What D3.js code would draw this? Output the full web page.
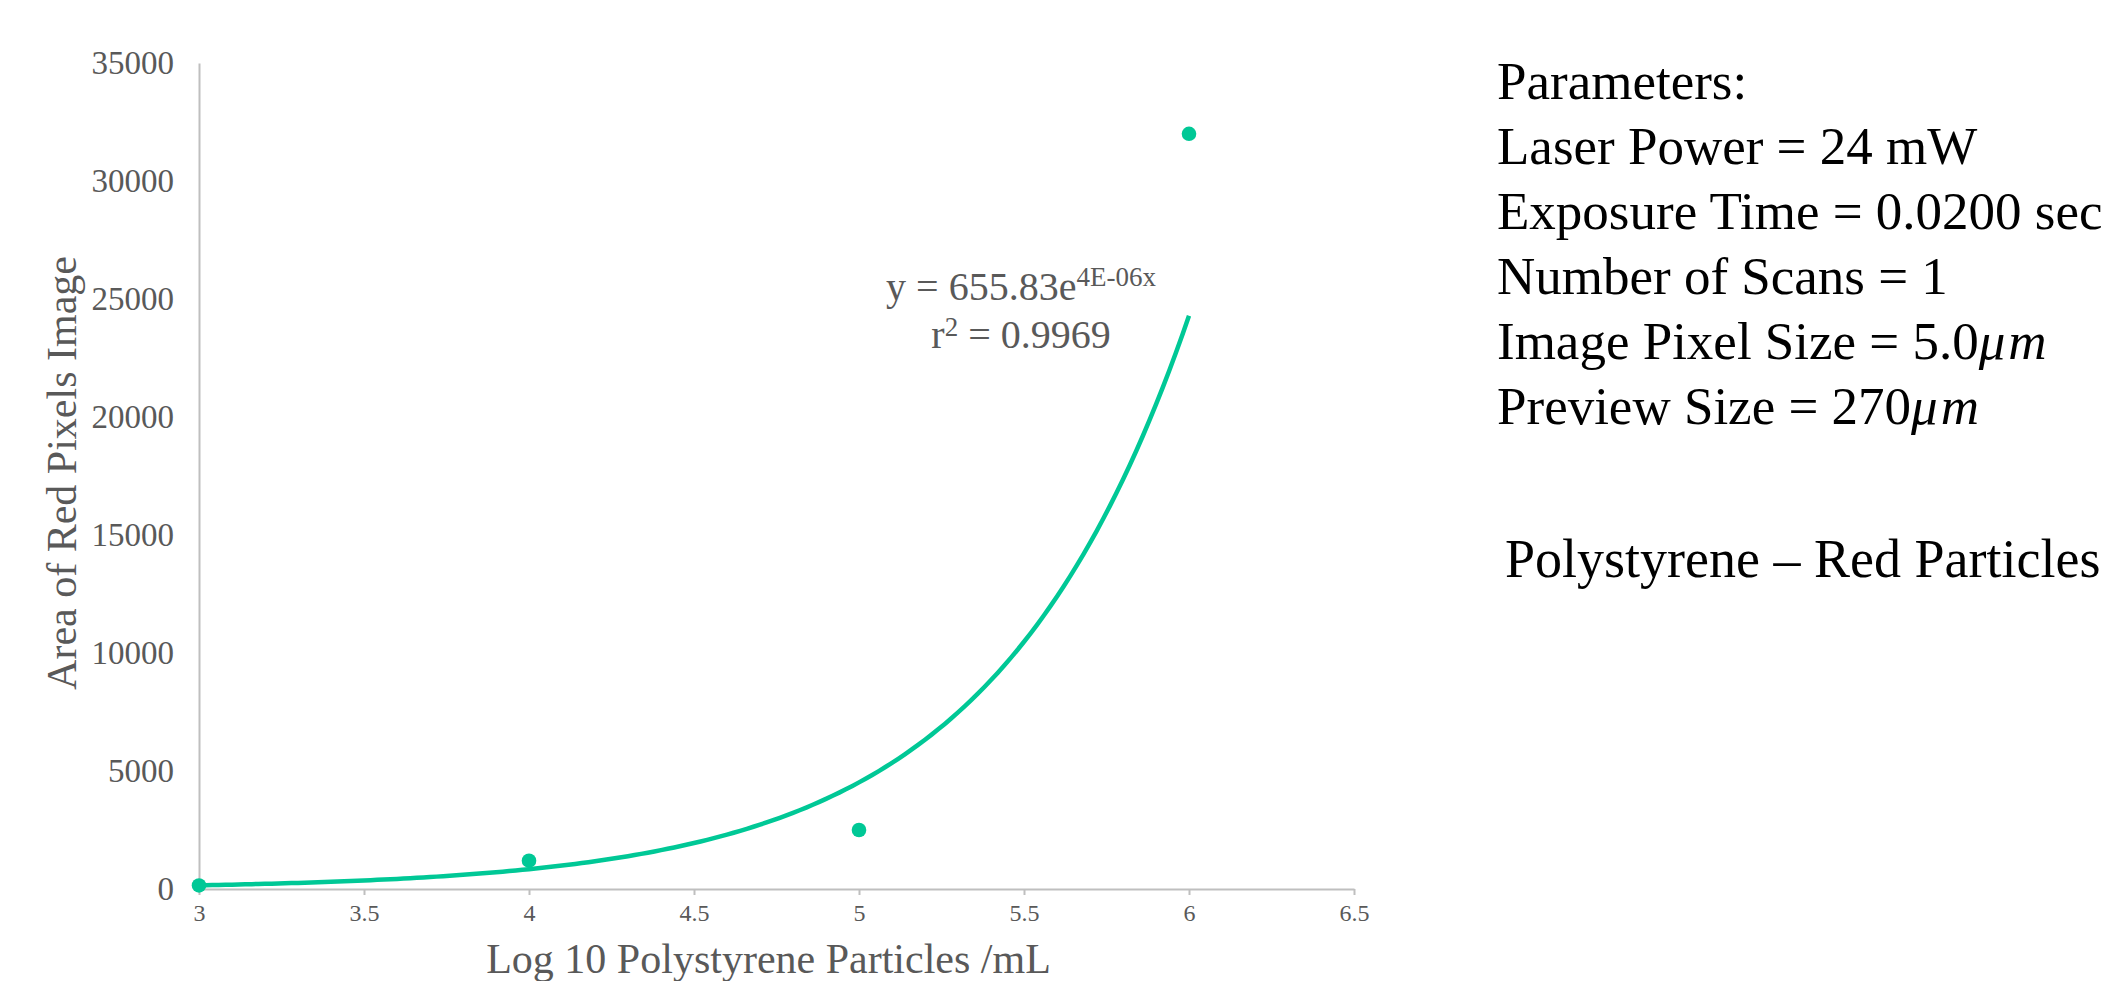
<!DOCTYPE html>
<html>
<head>
<meta charset="utf-8">
<script src="https://cdn.jsdelivr.net/npm/d3@7"></script>
<style>
  html, body { margin: 0; padding: 0; background: #fff; overflow: hidden; }
  svg { display: block; }
  text { font-family: "Liberation Serif", "Times New Roman", serif; }
</style>
</head>
<body>
<svg id="chart" width="2113" height="981"></svg>
<script>
// ---- data ----
const logConc = [3, 4, 5, 6];
const redArea = [150, 1200, 2500, 32000];
const xTicks = [3, 3.5, 4, 4.5, 5, 5.5, 6, 6.5];
const yTicks = [0, 5000, 10000, 15000, 20000, 25000, 30000, 35000];
const xTitle = "Log 10 Polystyrene Particles /mL";
const yTitle = "Area of Red Pixels Image";
const eqMain = "y = 655.83e";
const eqSup = "4E-06x";
const eqR2 = "0.9969";
const paramLines = [
  ["Parameters:"],
  ["Laser Power = 24 mW"],
  ["Exposure Time = 0.0200 sec"],
  ["Number of Scans = 1"],
  ["Image Pixel Size = 5.0", "μm"],
  ["Preview Size = 270", "μm"]
];
const subtitle = "Polystyrene – Red Particles";

(function () {
// ---- layout ----
const svg = d3.select("#chart");
const pLeft = 199, pRight = 1354, pTop = 63, pBottom = 889;
const x = d3.scaleLinear().domain([3, 6.5]).range([pLeft, pRight]);
const y = d3.scaleLinear().domain([0, 35000]).range([pBottom, pTop]);
const green = "#00C896";
const grey = "#595959";
const axisGrey = "#BFBFBF";

// ---- axes ----
const xAxis = svg.append("g").attr("transform", `translate(0,${pBottom})`)
  .call(d3.axisBottom(x).tickValues(xTicks).tickSize(6).tickSizeOuter(0).tickFormat(d3.format("")));
xAxis.select(".domain").attr("stroke", axisGrey).attr("stroke-width", 2);
xAxis.selectAll(".tick line").attr("stroke", axisGrey).attr("stroke-width", 2);
xAxis.selectAll(".tick text").attr("fill", grey).attr("font-size", 24)
  .attr("font-family", "Liberation Serif").attr("y", 15).attr("dy", "0.71em");

const yAxis = svg.append("g").attr("transform", `translate(${pLeft},0)`)
  .call(d3.axisLeft(y).tickValues(yTicks).tickSize(0).tickPadding(25).tickFormat(d3.format("d")));
yAxis.select(".domain").attr("stroke", axisGrey).attr("stroke-width", 2);
yAxis.selectAll(".tick text").attr("fill", grey).attr("font-size", 33)
  .attr("font-family", "Liberation Serif");

// axis titles
svg.append("text").attr("x", (pLeft + pRight) / 2 - 8).attr("y", 973)
  .attr("text-anchor", "middle").attr("fill", grey).attr("font-size", 42).text(xTitle);
svg.append("text").attr("transform", `translate(76,${(pTop + pBottom) / 2 - 3}) rotate(-90)`)
  .attr("text-anchor", "middle").attr("fill", grey).attr("font-size", 42).text(yTitle);

// ---- exponential trendline (least squares on ln y, as spreadsheet does) ----
const lx = logConc, ly = redArea.map(Math.log);
const mx = d3.mean(lx), my = d3.mean(ly);
const b = d3.sum(lx.map((v, i) => (v - mx) * (ly[i] - my))) / d3.sum(lx.map(v => (v - mx) ** 2));
const a = Math.exp(my - b * mx);
const trendX = d3.range(3, 6.0001, 0.02);
svg.append("path")
  .datum(trendX)
  .attr("fill", "none").attr("stroke", green).attr("stroke-width", 4.5)
  .attr("d", d3.line().x(d => x(d)).y(d => y(a * Math.exp(b * d))));

// points
svg.append("g").selectAll("circle").data(logConc).join("circle")
  .attr("cx", (d) => x(d)).attr("cy", (d, i) => y(redArea[i]))
  .attr("r", 7.3).attr("fill", green);

// equation label (one text block, two lines)
const eq = svg.append("text").attr("text-anchor", "middle").attr("fill", grey).attr("font-size", 40);
eq.append("tspan").attr("x", 1021).attr("y", 300).text(eqMain);
eq.append("tspan").attr("font-size", 27).attr("dy", -14).text(eqSup);
eq.append("tspan").attr("x", 1021).attr("y", 348).text("r");
eq.append("tspan").attr("font-size", 27).attr("dy", -12).text("2");
eq.append("tspan").attr("dy", 12).text(" = " + eqR2);

// ---- parameter text ----
const pg = svg.append("g");
paramLines.forEach((parts, i) => {
  const t = pg.append("text").attr("x", 1497).attr("y", 99 + 65 * i)
    .attr("fill", "#000").attr("font-size", 53);
  t.append("tspan").text(parts[0]);
  if (parts[1]) t.append("tspan").attr("font-style", "italic").attr("letter-spacing", 3).text(parts[1]);
});
svg.append("text").attr("x", 1505).attr("y", 577).attr("fill", "#000")
  .attr("font-size", 54).text(subtitle);
})();
</script>
</body>
</html>
